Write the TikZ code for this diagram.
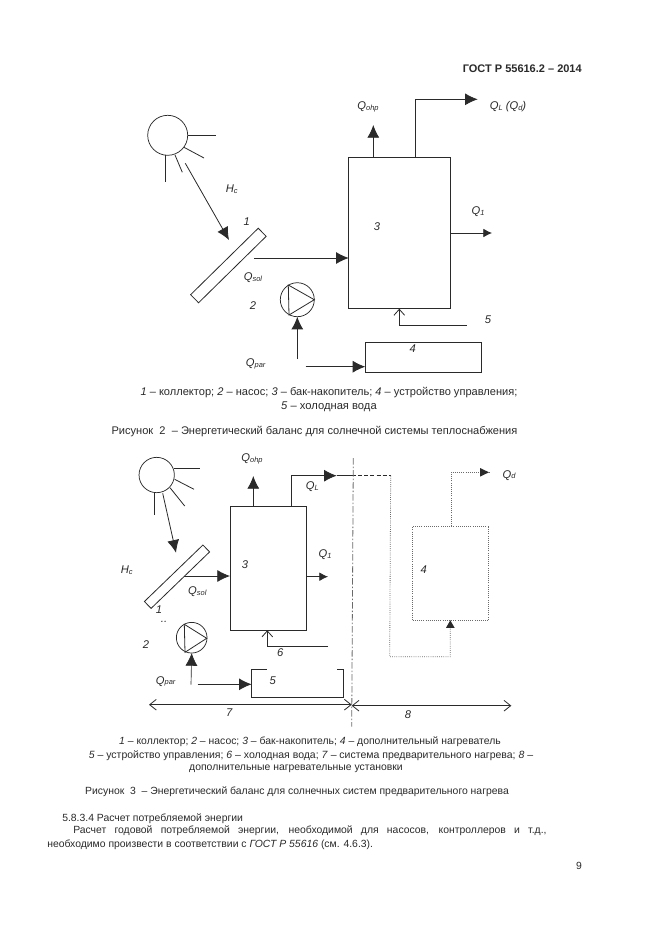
\documentclass[tikz,border=0pt]{standalone}
\usepackage{fontspec}
\setmainfont{Liberation Sans}
\usetikzlibrary{arrows.meta}
\definecolor{ink}{HTML}{2A2A2A}
\definecolor{soft}{HTML}{6A6A6A}
\newcommand{\qsub}[2]{\textit{#1}{\fontsize{5.6}{6}\selectfont\raisebox{-0.5pt}{\textit{#2}}}}
\tikzset{
  px/.style={x=0.75pt,y=-0.75pt},
  line/.style={draw=ink,line width=0.6pt},
  big/.style={line,-{Latex[length=9.5pt,width=9pt]}},
  mid/.style={line,-{Latex[length=6.5pt,width=6.5pt]}},
  open/.style={line,-{Straight Barb[length=4.5pt,width=8pt]}},
  both/.style={line,{Straight Barb[length=5pt,width=8pt]}-{Straight Barb[length=5pt,width=8pt]}},
  box/.style={draw=ink,line width=0.6pt,inner sep=0pt,outer sep=0pt,rectangle},
  sun/.style={draw=ink,line width=0.55pt,circle,inner sep=0pt,outer sep=0pt},
  tag/.style={inner sep=0pt,text=ink,font=\fontsize{8.4}{10}\selectfont\itshape},
  txt/.style={inner sep=0pt,text=ink,font=\fontsize{7.8}{10}\selectfont},
  dotl/.style={draw=soft,line width=0.6pt,densely dotted},
  dashl/.style={draw=ink,line width=0.6pt,dash pattern=on 3pt off 1.6pt},
}
\begin{document}
\begin{tikzpicture}[px]
\useasboundingbox (0,0) rectangle (661,936);
\fill[white] (0,0) rectangle (661,936);

% ---------- header
\node[txt,anchor=east,font=\fontsize{8.25}{10}\selectfont\bfseries] (hdr) at (582,69) {ГОСТ Р 55616.2 – 2014};

% ---------- Figure 2
\node[sun,minimum size=30pt] (sunA) at (167.7,135.3) {};
\coordinate (a1) at (216,135.3); \coordinate (a1s) at (187.7,135.3);
\coordinate (a2) at (204,158);   \coordinate (a2s) at (184,147.3);
\coordinate (a3) at (182.3,172.3); \coordinate (a3s) at (175,155);
\coordinate (a4) at (165,181.7); \coordinate (a4s) at (165,155);
\draw[line] (a1s)--(a1); \draw[line] (a2s)--(a2); \draw[line] (a3s)--(a3); \draw[line] (a4s)--(a4);
\coordinate (rayA) at (185.3,163.3); \coordinate (hitA) at (229,240);
\draw[big] (rayA)--(hitA);

\node[box,minimum width=71.1pt,minimum height=8.5pt,rotate=44.5] (collA) at (228.4,265.5) {};
\node[box,minimum width=76.5pt,minimum height=113.2pt] (tankA) at (399.7,233.2) {};
\node[box,minimum width=87pt,minimum height=22.5pt] (ctlA) at (423.3,357.3) {};
\node[sun,minimum size=25.5pt] (pumpA) at (297.3,299.7) {};
\coordinate (pA1) at (288.3,285); \coordinate (pA2) at (314.3,299.7); \coordinate (pA3) at (289,315);
\draw[line] (pA1)--(pA2)--(pA3)--cycle;

\coordinate (solA) at (254.3,258);
\draw[big] (solA)--(solA-|tankA.west);
\coordinate (ohpA) at (373.3,125);
\draw[big] (ohpA|-tankA.north)--(ohpA);
\coordinate (qlA1) at (415.7,99.3); \coordinate (qlA2) at (477.7,99.3);
\draw[big] (qlA1|-tankA.north)--(qlA1)--(qlA2);
\coordinate (q1A) at (492,233);
\draw[mid] (q1A-|tankA.east)--(q1A);
\coordinate (parA) at (297.3,359);
\draw[big,line width=0.75pt] (parA)--(pumpA.south);
\coordinate (parB) at (305.7,366.7);
\draw[big] (parB)--(parB-|ctlA.west);
\coordinate (coldA) at (466.7,325.3); \coordinate (coldB) at (399.3,325.3);
\draw[open] (coldA)--(coldB)--(coldB|-tankA.south);

\node[tag] (lA1) at (368,107) {\qsub{Q}{ohp}};
\node[tag] (lA2) at (508,107) {\qsub{Q}{L} (\qsub{Q}{d})};
\node[tag] (lA3) at (231.7,189) {\qsub{H}{c}};
\node[tag] (lA4) at (246.7,222) {1};
\node[tag] (lA5) at (377,227) {3};
\node[tag] (lA6) at (478,212) {\qsub{Q}{1}};
\node[tag] (lA7) at (253,277.7) {\qsub{Q}{sol}};
\node[tag] (lA8) at (253,305.3) {2};
\node[tag] (lA9) at (488,320) {5};
\node[tag] (lA10) at (412.7,348.5) {4};
\node[tag] (lA11) at (255.7,364) {\qsub{Q}{par}};

\node[txt,font=\fontsize{8.3}{10}\selectfont] (capA1) at (329,393) {\textit{1} – коллектор; \textit{2} – насос; \textit{3} – бак-накопитель; \textit{4} – устройство управления;};
\node[txt,font=\fontsize{8.4}{10}\selectfont] (capA2) at (329,407) {\textit{5} – холодная вода};
\node[txt,font=\fontsize{8.3}{10}\selectfont] (capA3) at (314.5,432) {Рисунок\ \ 2\ \ – Энергетический баланс для солнечной системы теплоснабжения};

% ---------- Figure 3
\node[sun,minimum size=26.5pt] (sunB) at (156.7,475) {};
\coordinate (b1s) at (174,468);   \coordinate (b1) at (200,468);
\coordinate (b2s) at (174.7,479.3); \coordinate (b2) at (194,489.3);
\coordinate (b3s) at (170,487.7); \coordinate (b3) at (184.7,506);
\coordinate (b4s) at (154,492.7); \coordinate (b4) at (154,515.3);
\draw[line] (b1s)--(b1); \draw[line] (b2s)--(b2); \draw[line] (b3s)--(b3); \draw[line] (b4s)--(b4);
\coordinate (rayB) at (162.7,493.3); \coordinate (hitB) at (176,552.7);
\draw[big] (rayB)--(hitB);

\node[box,minimum width=61pt,minimum height=7.2pt,rotate=44] (collB) at (177,576.7) {};
\node[box,minimum width=57pt,minimum height=92.7pt] (tankB) at (268,568.5) {};
\node[box,dotl,minimum width=57pt,minimum height=70.7pt] (heatB) at (450.7,573.2) {};
\node[sun,minimum size=23pt] (pumpB) at (191.7,637.7) {};
\coordinate (pB1) at (184.3,624.3); \coordinate (pB2) at (206.7,638.3); \coordinate (pB3) at (185,652.3);
\draw[line] (pB1)--(pB2)--(pB3)--cycle;

% control box, open at the top
\coordinate (c1) at (266.7,669.3); \coordinate (c2) at (251.7,669.3); \coordinate (c3) at (251.7,697.3);
\coordinate (c4) at (343.3,697.3); \coordinate (c5) at (343.3,669.3); \coordinate (c6) at (336.7,669.3);
\draw[line] (c1)--(c2)--(c3)--(c4)--(c5)--(c6);

\coordinate (solB) at (184.3,576);
\draw[big] (solB)--(solB-|tankB.west);
\coordinate (ohpB) at (253.3,476);
\draw[big] (ohpB|-tankB.north)--(ohpB);
\coordinate (qlB1) at (291,475.7); \coordinate (qlB2) at (336.7,475.7); \coordinate (qlB3) at (352,475.7);
\coordinate (qlB4) at (390.7,475.7); \coordinate (qlB5) at (389.7,656.7); \coordinate (qlB6) at (450.3,656.7);
\draw[big] (qlB1|-tankB.north)--(qlB1)--(qlB2);
\draw[line] (qlB2)--(qlB3);
\draw[dashl] (qlB3)--(qlB4);
\draw[dotl] (qlB4)--(qlB5)--(qlB6)--(qlB6|-heatB.south);
\fill[ink] (qlB6|-heatB.south) ++(-4.3,7.5) -- ++(8.6,0) -- ++(-4.3,-7.5) -- cycle;
\coordinate (qdB1) at (451,472.3); \coordinate (qdB2) at (489,472.3);
\draw[dotl] (qdB1|-heatB.north)--(qdB1)--(qdB2);
\fill[ink] (qdB2) -- ++(-9,-4.3) -- ++(0,8.6) -- cycle;
\coordinate (q1B) at (328,576.7);
\draw[mid] (q1B-|tankB.east)--(q1B);
\coordinate (parC) at (191,684.7);
\draw[big,line width=0.5pt] (parC)--(pumpB.south);
\coordinate (parD) at (197.7,684.3);
\draw[big,line width=0.75pt] (parD)--(parD-|c2);
\coordinate (coldC) at (328,646.3); \coordinate (coldD) at (267.3,646.3);
\draw[open] (coldC)--(coldD)--(coldD|-tankB.south);

\coordinate (divT) at (353.3,458); \coordinate (divB) at (351.7,726.7);
\draw[draw=soft,line width=0.6pt,dash pattern=on 5pt off 1.5pt on 1pt off 1.5pt] (divT)--(divB);
\coordinate (d7L) at (149,704.7); \coordinate (d7R) at (351.7,704.7); \coordinate (d8R) at (511.3,705.7);
\draw[both] (d7L)--(d7R);
\draw[both] (d8R)--(d7R|-d8R);

\node[tag] (lB1) at (252,459) {\qsub{Q}{ohp}};
\node[tag] (lB2) at (312.3,486.7) {\qsub{Q}{L}};
\node[tag] (lB3) at (126.7,570) {\qsub{H}{c}};
\node[tag] (lB4) at (245,564.3) {3};
\node[tag] (lB5) at (325,554.7) {\qsub{Q}{1}};
\node[tag] (lB6) at (197.3,592) {\qsub{Q}{sol}};
\node[tag] (lB7) at (159,609.3) {1};
\node[tag] (lB8) at (164,622) {..};
\node[tag] (lB9) at (146,645) {2};
\node[tag] (lB10) at (280.3,652.7) {6};
\node[tag] (lB11) at (272.7,680.7) {5};
\node[tag] (lB12) at (165.7,681.3) {\qsub{Q}{par}};
\node[tag] (lB13) at (229.3,712.7) {7};
\node[tag] (lB14) at (408,715) {8};
\node[tag] (lB15) at (423.7,569.3) {4};
\node[tag] (lB16) at (509,475.3) {\qsub{Q}{d}};

\node[txt] (capB1) at (310,741.5) {\textit{1} – коллектор; \textit{2} – насос; \textit{3} – бак-накопитель; \textit{4} – дополнительный нагреватель};
\node[txt,font=\fontsize{7.87}{10}\selectfont] (capB2) at (311,755.5) {\textit{5} – устройство управления; \textit{6} – холодная вода; \textit{7} – система предварительного нагрева; \textit{8} –};
\node[txt] (capB3) at (296,768.5) {дополнительные нагревательные установки};
\node[txt] (capB4) at (297,792) {Рисунок\ \ 3\ \ – Энергетический баланс для солнечных систем предварительного нагрева};

% ---------- body text
\node[txt,anchor=west] (body1) at (62,819) {5.8.3.4 Расчет потребляемой энергии};
\node[txt,anchor=west] (body2) at (73,831) {\makebox[355pt][s]{Расчет годовой потребляемой энергии, необходимой для насосов, контроллеров и т.д.,}};
\node[txt,anchor=west] (body3) at (47,845) {необходимо произвести в соответствии с \textit{ГОСТ Р 55616} (см. 4.6.3).};
\node[txt] (pageno) at (579,866) {9};
\end{tikzpicture}
\end{document}
